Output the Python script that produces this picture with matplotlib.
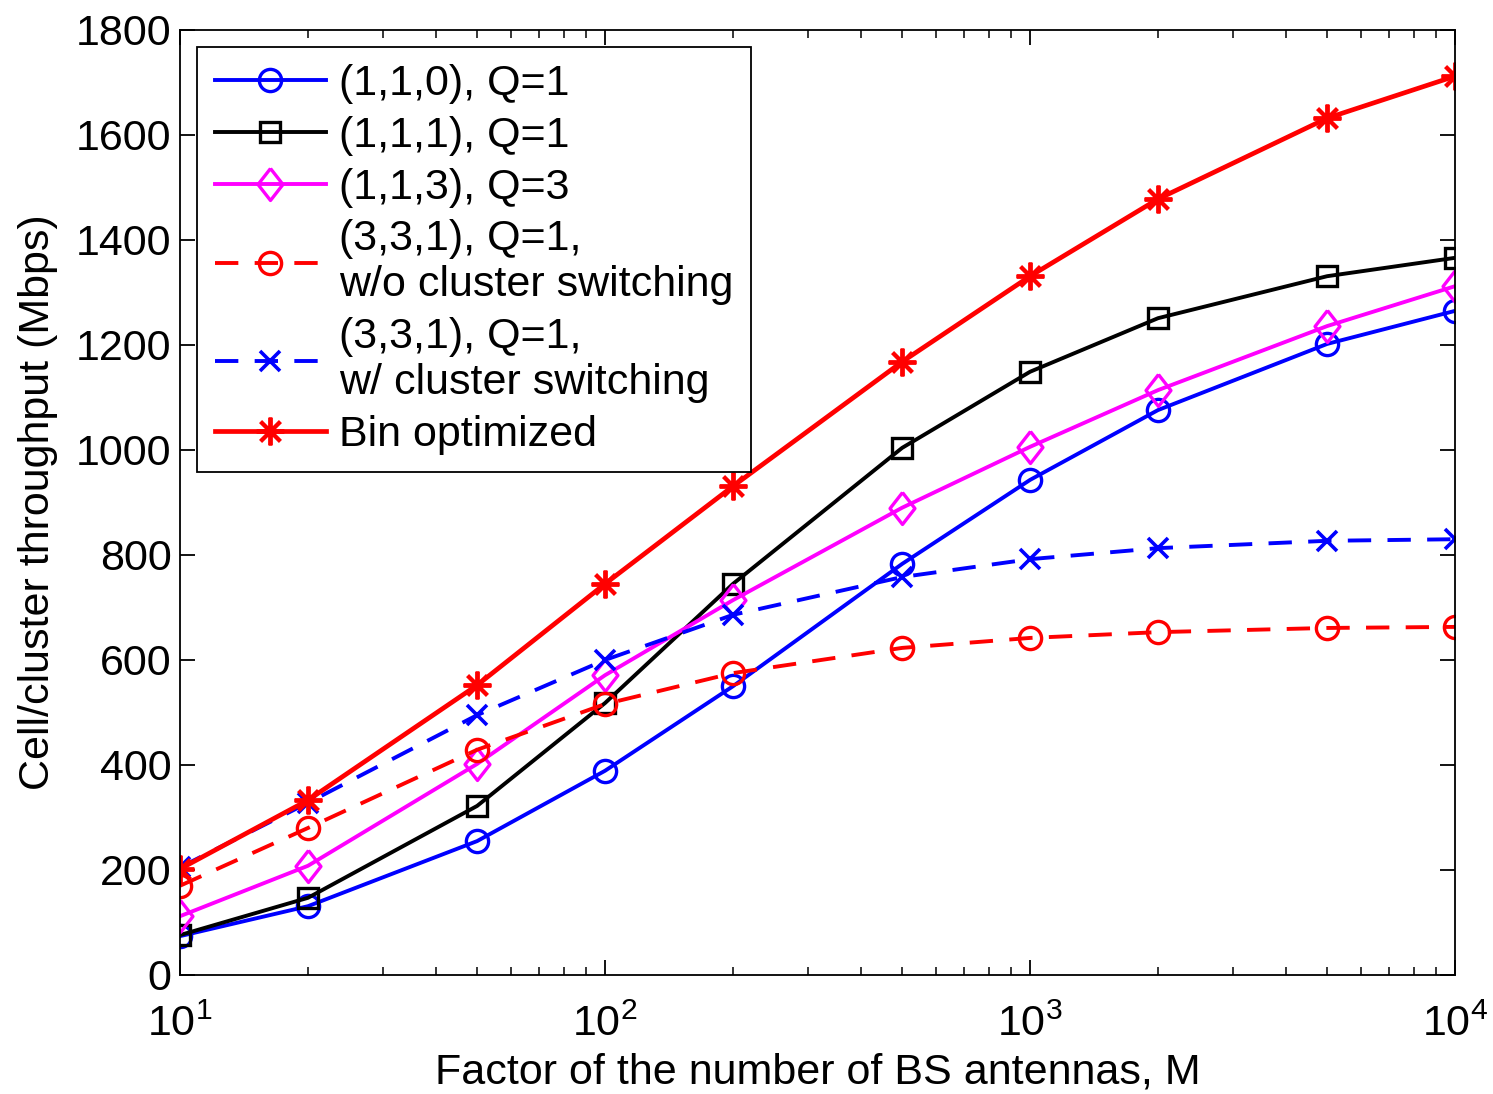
import numpy as np
import matplotlib.pyplot as plt
from matplotlib.ticker import LogLocator, NullFormatter

plt.rcParams['font.family'] = ['Liberation Sans', 'DejaVu Sans']
plt.rcParams['mathtext.fontset'] = 'custom'
plt.rcParams['mathtext.rm'] = 'Liberation Sans'

# antenna factor M
M = [10, 20, 50, 100, 200, 500, 1000, 2000, 5000, 10000]

# throughput in Mbps
tp_110 = [74, 131, 255, 389, 550, 783, 943, 1076, 1202, 1265]
tp_111 = [76, 147, 322, 518, 745, 1004, 1149, 1251, 1331, 1366]
tp_113 = [112, 208, 402, 571, 714, 890, 1006, 1114, 1236, 1312]
tp_331_nosw = [170, 280, 429, 516, 575, 623, 642, 653, 661, 663]
tp_331_sw = [205, 328, 495, 600, 686, 758, 792, 813, 827, 830]
tp_bin = [202, 333, 552, 745, 931, 1168, 1331, 1478, 1632, 1712]

labels = ['(1,1,0), Q=1', '(1,1,1), Q=1', '(1,1,3), Q=3',
          '(3,3,1), Q=1,\nw/o cluster switching',
          '(3,3,1), Q=1,\nw/ cluster switching',
          'Bin optimized']

fig = plt.figure(figsize=(14.93, 10.94), dpi=100)
ax = fig.add_axes([0.1206, 0.1088, 0.854, 0.8638])

lw = 2.8
dash = (6, 4.2)
asterisk = (8, 2, 0)
# slightly tall diamond
diamond = [(0, 1), (0.78, 0), (0, -1), (-0.78, 0), (0, 1)]

ax.plot(M, tp_110, '-o', color='blue', lw=lw, ms=16, mfc='none', mew=2.4, label=labels[0])
ax.plot(M, tp_111, '-s', color='black', lw=lw, ms=14, mfc='none', mew=2.4, label=labels[1])
ax.plot(M, tp_113, '-', marker=diamond, color='magenta', lw=lw, ms=23, mfc='none',
        mew=2.4, label=labels[2])
ax.plot(M, tp_331_nosw, '--o', color='red', lw=lw, ms=16, mfc='none', mew=2.4,
        dashes=dash, label=labels[3])
ax.plot(M, tp_331_sw, '--x', color='blue', lw=lw, ms=14.5, mew=2.6,
        dashes=dash, label=labels[4])
ax.plot(M, tp_bin, '-', marker=asterisk, color='red', lw=3.4, ms=20, mew=2.8,
        label=labels[5])

ax.set_xscale('log')
ax.set_xlim(10, 10000)
ax.set_ylim(0, 1800)
ax.set_yticks(np.arange(0, 1801, 200))
ax.xaxis.set_minor_locator(LogLocator(base=10, subs=np.arange(2, 10)))
ax.xaxis.set_minor_formatter(NullFormatter())

ax.tick_params(which='both', direction='in', top=True, right=True, labelsize=31)
ax.tick_params(which='major', length=11, width=1.3)
ax.tick_params(which='minor', length=6, width=1.1)
ax.tick_params(axis='x', which='major', pad=21)
ax.tick_params(axis='y', which='major', pad=6)
for s in ax.spines.values():
    s.set_linewidth(1.3)

ax.set_xlabel('Factor of the number of BS antennas, M', fontsize=31, labelpad=6)
ax.set_ylabel('Cell/cluster throughput (Mbps)', fontsize=31, labelpad=13)

leg = ax.legend(loc='upper left', fontsize=31, handlelength=2.6, handletextpad=0.3,
                borderpad=0.4, labelspacing=0.27, fancybox=False, framealpha=1,
                borderaxespad=0.4)
for t in leg.get_texts():
    t.set_linespacing(1.2)
leg.get_frame().set_edgecolor('black')
leg.get_frame().set_linewidth(1.3)

fig.savefig('out.png', dpi=100)
